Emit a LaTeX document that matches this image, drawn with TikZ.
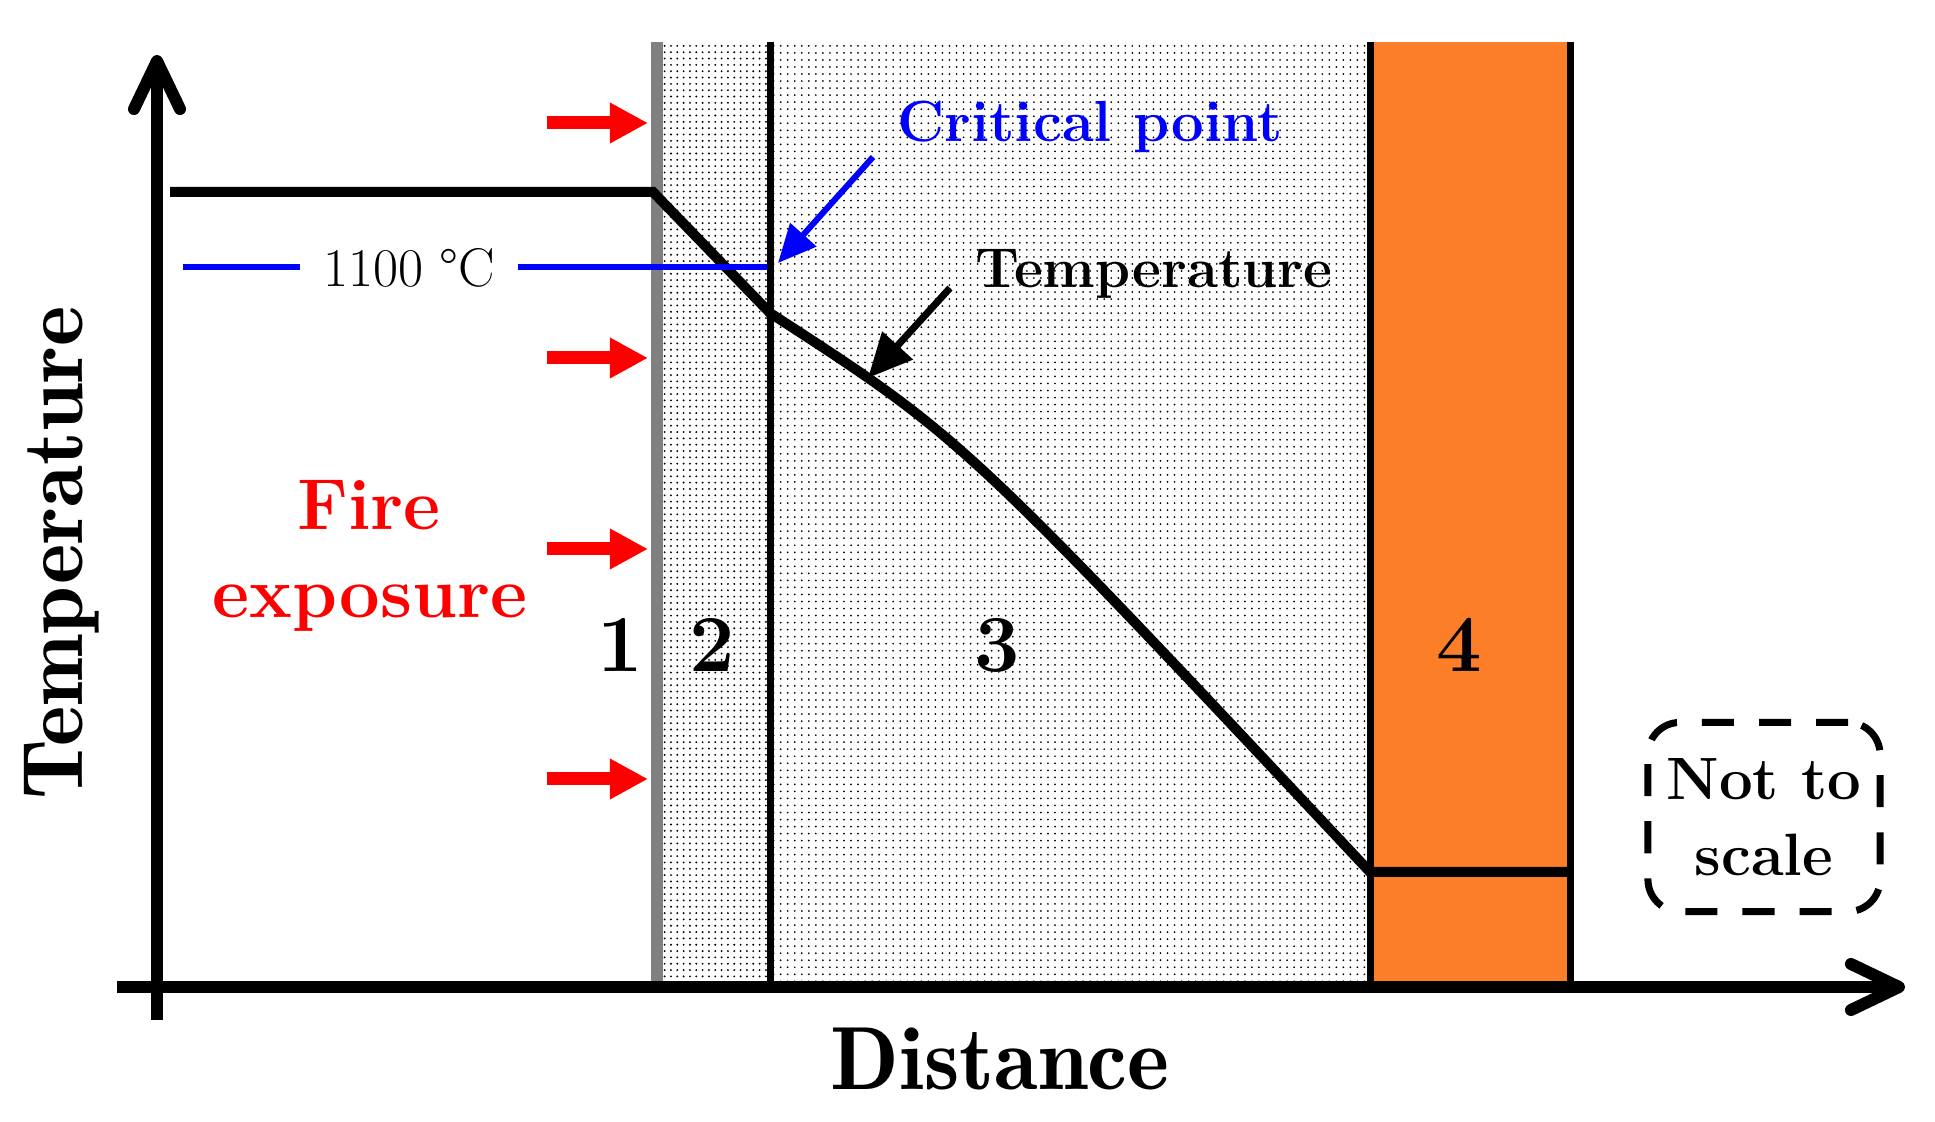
\documentclass[tikz,border=0pt]{standalone}
\usepackage{fontspec}
\usepackage{tikz}
\usetikzlibrary{arrows.meta, patterns.meta, positioning}

\newfontfamily\demifont{lmromandemi10-regular.otf}
\definecolor{boardorange}{RGB}{253,126,40}

\tikzset{
  axis/.style={line width=0.12cm, -{Straight Barb[length=0.48cm, width=0.46cm, round]}},
  heat/.style={red, line width=0.13cm, -{Triangle[length=0.38cm, width=0.38cm]}},
  border/.style={line width=0.07cm},
  txt/.style={inner sep=0pt, anchor=base},
  layernum/.style={txt, font=\bfseries\fontsize{23}{27}\selectfont},
}

\begin{document}
\begin{tikzpicture}[x=0.01cm, y=-0.01cm]
  \useasboundingbox (0,0) rectangle (1935,1122);

  % layers
  \fill[pattern={Dots[distance=1.8pt, radius=0.3pt]}, pattern color=black] (663,42) rectangle (770,987);
  \fill[pattern={Dots[distance=2pt, radius=0.28pt]}, pattern color=black] (770,42) rectangle (1370,987);
  \fill[boardorange] (1370,42) rectangle (1570,987);
  \fill[gray] (651,42) rectangle (663,987);
  \draw[border] (770,42) -- (770,987);
  \draw[border] (1370,42) -- (1370,987);
  \draw[border] (1570,42) -- (1570,987);

  % temperature profile
  \coordinate (t0) at (170,192);
  \coordinate (t1) at (653,192);
  \coordinate (t2) at (770,313);
  \coordinate (t3) at (1370,872);
  \coordinate (t4) at (1570,872);
  \draw[line width=0.1cm] (t0) -- (t1) -- (t2) .. controls (963,438) .. (t3) -- (t4);

  % 1100 degree line
  \node[txt, inner xsep=0.22cm, font=\fontsize{15.5}{18}\selectfont] (t1100) at (409,287) {1100 °C};
  \coordinate (c1100) at (183,267);
  \coordinate (crit) at (767,267);
  \draw[blue, line width=0.06cm] (c1100) -- (t1100.west |- c1100);
  \draw[blue, line width=0.06cm] (t1100.east |- c1100) -- (crit);

  % critical point
  \node[txt, blue, font=\bfseries\fontsize{16.5}{20}\selectfont] (critlabel) at (1090,142) {Critical point};
  \coordinate (cp0) at (873,157);
  \coordinate (cp1) at (778,263);
  \draw[blue, line width=0.06cm, -{Triangle[length=0.38cm, width=0.34cm]}] (cp0) -- (cp1);

  % temperature label
  \node[txt, font=\bfseries\fontsize{16}{20}\selectfont] (templabel) at (1154,288) {Temperature};
  \coordinate (tp0) at (950,288);
  \coordinate (tp1) at (868,378);
  \draw[line width=0.07cm, -{Triangle[length=0.44cm, width=0.4cm]}] (tp0) -- (tp1);

  % fire exposure
  \foreach \y [count=\i] in {123,358,549,779} {
    \coordinate (fa\i) at (547,\y);
    \coordinate (fb\i) at (648,\y);
    \draw[heat] (fa\i) -- (fb\i);
  }
  \node[txt, red, font=\bfseries\fontsize{20.5}{24}\selectfont] (fire) at (369,530) {Fire};
  \node[txt, red, font=\bfseries\fontsize{20.5}{24}\selectfont] (exposure) at (370,618) {exposure};

  % layer numbers
  \node[layernum] (n1) at (620,672) {1};
  \node[layernum] (n2) at (712,672) {2};
  \node[layernum] (n3) at (997,672) {3};
  \node[layernum] (n4) at (1459,672) {4};

  % not to scale
  \node[draw, line width=0.07cm, dash pattern=on 0.32cm off 0.25cm, rounded corners=0.32cm,
        minimum width=2.32cm, minimum height=1.89cm, align=center,
        font=\bfseries\fontsize{17}{21.6}\selectfont] (noscale) at (1764,817) {Not to\\scale};

  % axes
  \coordinate (ybot) at (157,1020);
  \coordinate (ytop) at (157,55);
  \coordinate (xleft) at (117,987);
  \coordinate (xright) at (1905,987);
  \draw[axis] (ybot) -- (ytop);
  \draw[axis] (xleft) -- (xright);
  \node[txt, rotate=90, font=\demifont\fontsize{24.5}{30}\selectfont] (ylabel) at (82,553) {Temperature};
  \node[txt, font=\demifont\fontsize{25.5}{31}\selectfont] (xlabel) at (1000,1090) {Distance};
\end{tikzpicture}
\end{document}
